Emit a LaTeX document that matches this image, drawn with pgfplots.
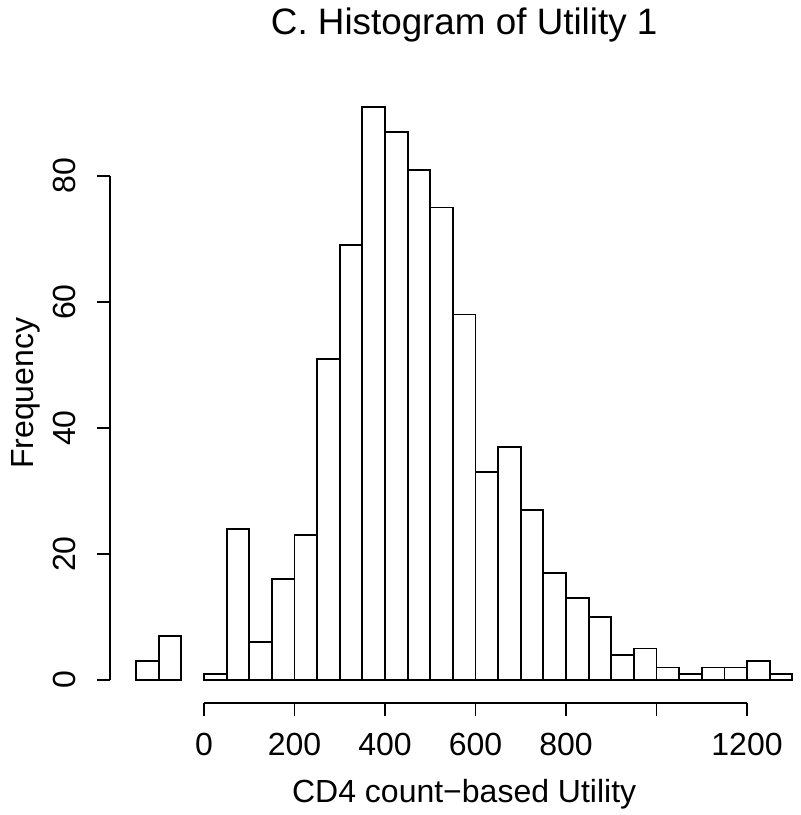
\documentclass[border=0pt]{standalone}
\usepackage{fontspec}
\setmainfont{Liberation Sans}
\usepackage{pgfplots}
\pgfplotsset{compat=1.18}
\begin{document}
\begin{tikzpicture}
\useasboundingbox (-102pt,-67.5pt) rectangle (298pt,340pt);
\begin{axis}[
  at={(0,0)}, anchor=origin,
  x=0.22625pt, y=3.15pt,
  xmin=-208, xmax=1358, ymin=-3.64, ymax=94.64,
  axis x line*=bottom, axis y line*=left,
  x axis line style={-, line width=0.9pt, shorten <=47.06pt, shorten >=35.75pt},
  y axis line style={-, line width=0.9pt, shorten <=11.47pt, shorten >=46.12pt},
  xtick={0,200,400,600,800,1000,1200},
  xticklabels={0,200,400,600,800,,1200},
  ytick={0,20,40,60,80},
  tick align=outside,
  major tick length=6.5pt,
  tick style={line width=0.9pt, black},
  /pgf/number format/assume math mode=true,
  tick label style={font=\fontsize{16}{19}\selectfont},
  xticklabel style={anchor=center, yshift=-14.5pt},
  yticklabel style={anchor=center, xshift=-16pt, rotate=90},
  every axis title shift=0pt,
  title={C. Histogram of Utility 1},
  title style={font=\fontsize{18.4}{22}\selectfont, at={(rel axis cs:0.5,1.079)}, anchor=base, yshift=0pt},
  xlabel={CD4 count−based Utility},
  xlabel style={font=\fontsize{16}{19}\selectfont, at={(rel axis cs:0.5,-0.1614)}, anchor=base},
  ylabel={Frequency},
  ylabel style={font=\fontsize{16}{19}\selectfont, at={(rel axis cs:-0.1078,0.5)}, anchor=base, rotate=0},
]
\addplot[ybar interval, fill=white, draw=black, line width=0.9pt] coordinates {
(-150,3) (-100,7) (-50,7)
};
\addplot[ybar interval, fill=white, draw=black, line width=0.9pt] coordinates {
(0,1) (50,24) (100,6) (150,16) (200,23) (250,51) (300,69) (350,91)
(400,87) (450,81) (500,75) (550,58) (600,33) (650,37) (700,27) (750,17)
(800,13) (850,10) (900,4) (950,5) (1000,2) (1050,1) (1100,2) (1150,2)
(1200,3) (1250,1) (1300,1)
};
\end{axis}
\end{tikzpicture}
\end{document}
